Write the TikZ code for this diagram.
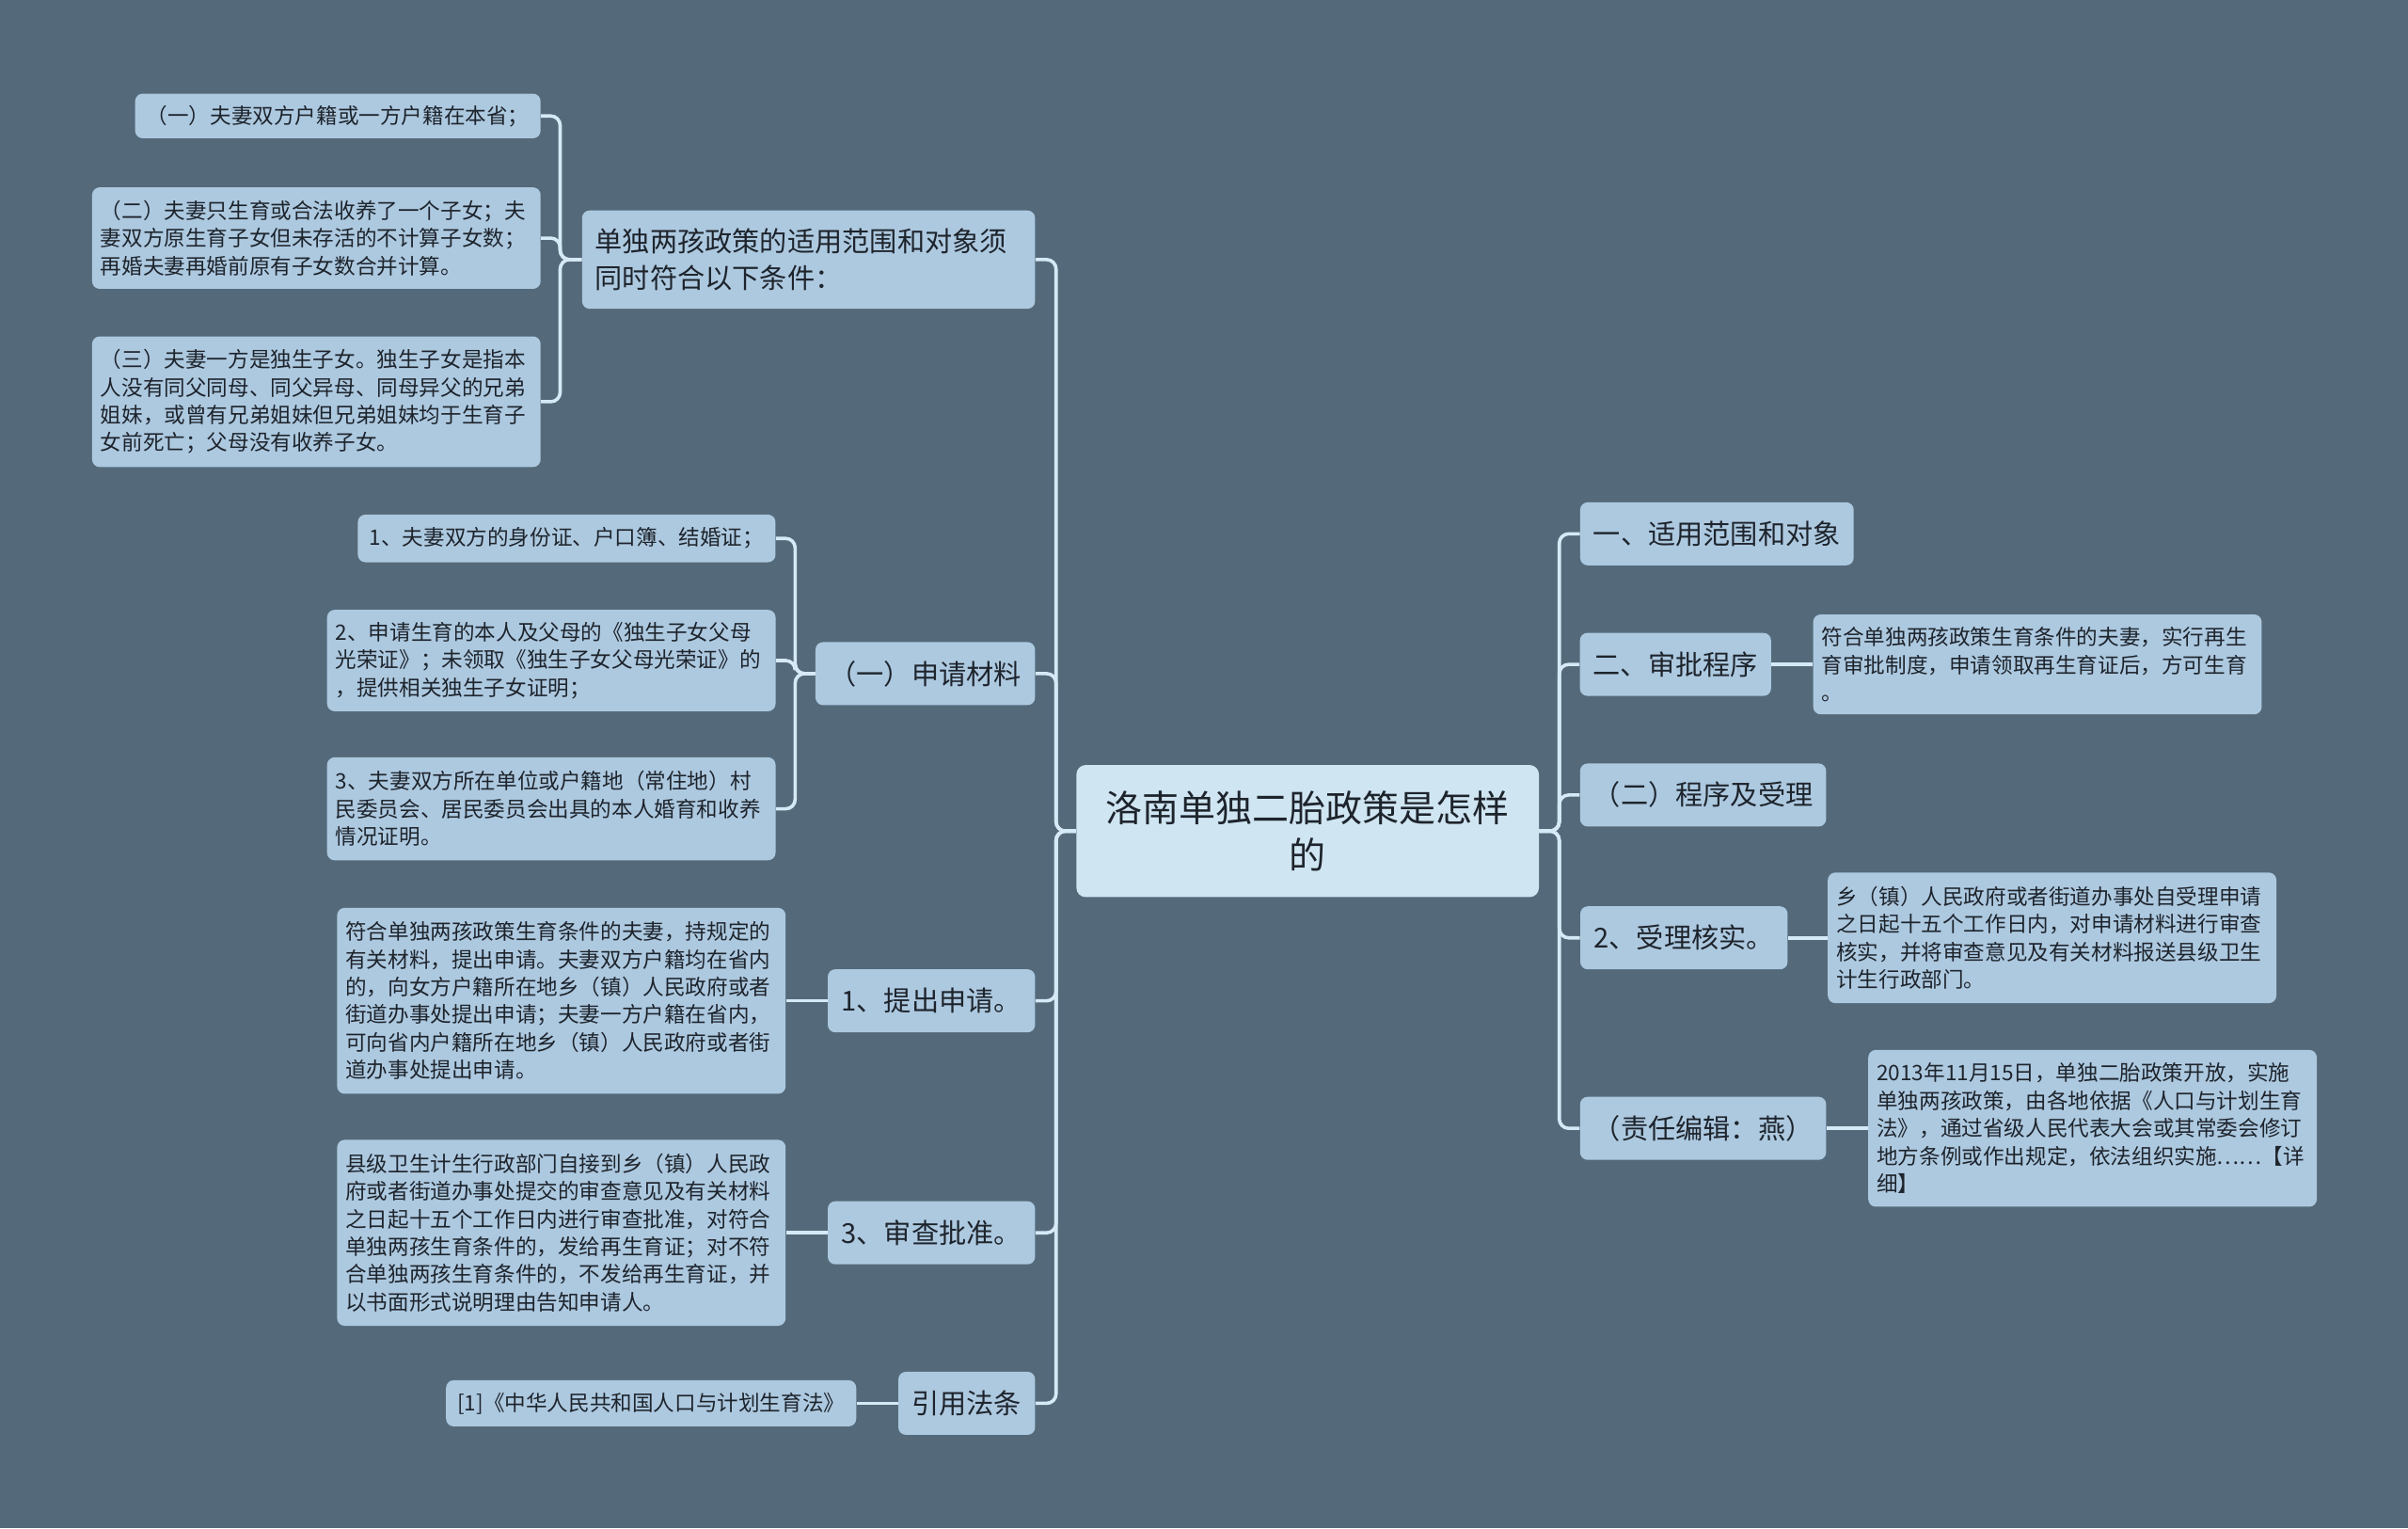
\documentclass[tikz,border=0pt]{standalone}
\usepackage{fontspec}
\setmainfont{Noto Sans CJK SC}
\usepackage{tikz}
\usetikzlibrary{positioning}
\definecolor{bgslate}{RGB}{84,106,122}
\definecolor{boxblue}{RGB}{173,201,224}
\definecolor{rootblue}{RGB}{207,229,242}
\definecolor{linkblue}{RGB}{214,233,246}
\definecolor{inkdark}{RGB}{30,36,44}
\tikzset{
  rootnode/.style={fill=rootblue, rounded corners=5pt, text=inkdark, align=center, font=\fontsize{19.5pt}{25.3pt}\selectfont, minimum height=70.2pt, text width=239.2pt},
  midnode/.style={fill=boxblue, rounded corners=4pt, text=inkdark, inner xsep=7pt, minimum height=33.5pt, font=\fontsize{14.6pt}{19.6pt}\selectfont},
  leafnode/.style={fill=boxblue, rounded corners=4pt, text=inkdark, align=left, inner xsep=4.5pt, inner ysep=3pt, font=\fontsize{11.3pt}{14.7pt}\selectfont, text width=229.4pt},
  lnk/.style={draw=linkblue, line width=1.8pt, rounded corners=5pt}
}

\begin{document}
\begin{tikzpicture}[x=0.8163pt, y=-0.8163pt]
  \fill[bgslate] (0,0) rectangle (1568,995);
  \useasboundingbox (0,0) rectangle (1568,995);

  % centre
  \node[rootnode] (root) at (851.5,541) {洛南单独二胎政策是怎样\\的};

  % left side
  \node[midnode, align=left, text width=226.8pt, minimum height=52.2pt] (a) at (526.5,169) {单独两孩政策的适用范围和对象须\\同时符合以下条件：};
  \node[midnode, minimum width=116.7pt] (b) at (602.5,438.5) {（一）申请材料};
  \node[midnode, minimum width=110.2pt] (c) at (606.5,651.5) {1、提出申请。};
  \node[midnode, minimum width=110.2pt] (d) at (606.5,802.5) {3、审查批准。};
  \node[midnode, minimum width=72.7pt] (e) at (629.5,913.5) {引用法条};

  \node[leafnode, text width=206.5pt, align=center, minimum height=23.7pt] (a1) at (220,75.5) {（一）夫妻双方户籍或一方户籍在本省；};
  \node[leafnode, minimum height=53.9pt] (a2) at (206,155) {（二）夫妻只生育或合法收养了一个子女；夫\\妻双方原生育子女但未存活的不计算子女数；\\再婚夫妻再婚前原有子女数合并计算。};
  \node[leafnode, minimum height=69.4pt] (a3) at (206,261.5) {（三）夫妻一方是独生子女。独生子女是指本\\人没有同父同母、同父异母、同母异父的兄弟\\姐妹，或曾有兄弟姐妹但兄弟姐妹均于生育子\\女前死亡；父母没有收养子女。};

  \node[leafnode, text width=213pt, align=center, minimum height=25.3pt] (b1) at (369,350.5) {1、夫妻双方的身份证、户口簿、结婚证；};
  \node[leafnode, minimum height=53.9pt] (b2) at (359,430) {2、申请生育的本人及父母的《独生子女父母\\光荣证》；未领取《独生子女父母光荣证》的\\，提供相关独生子女证明；};
  \node[leafnode, minimum height=54.7pt] (b3) at (359,526.5) {3、夫妻双方所在单位或户籍地（常住地）村\\民委员会、居民委员会出具的本人婚育和收养\\情况证明。};

  \node[leafnode, minimum height=98.8pt, left=22pt of c] (c1) {符合单独两孩政策生育条件的夫妻，持规定的\\有关材料，提出申请。夫妻双方户籍均在省内\\的，向女方户籍所在地乡（镇）人民政府或者\\街道办事处提出申请；夫妻一方户籍在省内，\\可向省内户籍所在地乡（镇）人民政府或者街\\道办事处提出申请。};
  \node[leafnode, minimum height=98.8pt, left=22pt of d] (d1) {县级卫生计生行政部门自接到乡（镇）人民政\\府或者街道办事处提交的审查意见及有关材料\\之日起十五个工作日内进行审查批准，对符合\\单独两孩生育条件的，发给再生育证；对不符\\合单独两孩生育条件的，不发给再生育证，并\\以书面形式说明理由告知申请人。};
  \node[leafnode, text width=209pt, align=center, minimum height=24.5pt, left=22pt of e] (e1) {[1]《中华人民共和国人口与计划生育法》};

  % right side
  \node[midnode, minimum width=145.3pt] (f) at (1118,347.5) {一、适用范围和对象};
  \node[midnode, minimum width=101.2pt] (g) at (1091,432.5) {二、审批程序};
  \node[midnode, minimum width=130.6pt] (h) at (1109,517.5) {（二）程序及受理};
  \node[midnode, minimum width=110.2pt] (i) at (1096.5,610.5) {2、受理核实。};
  \node[midnode, minimum width=130.6pt] (j) at (1109,734.5) {（责任编辑：燕）};

  \node[leafnode, minimum height=53.1pt, right=22pt of g] (g1) {符合单独两孩政策生育条件的夫妻，实行再生\\育审批制度，申请领取再生育证后，方可生育\\。};
  \node[leafnode, minimum height=69.4pt, right=21pt of i] (i1) {乡（镇）人民政府或者街道办事处自受理申请\\之日起十五个工作日内，对申请材料进行审查\\核实，并将审查意见及有关材料报送县级卫生\\计生行政部门。};
  \node[leafnode, minimum height=83.3pt, right=22pt of j] (j1) {2013年11月15日，单独二胎政策开放，实施\\单独两孩政策，由各地依据《人口与计划生育\\法》，通过省级人民代表大会或其常委会修订\\地方条例或作出规定，依法组织实施……【详\\细】};

  % connectors
  \foreach \n in {a,b,c,d,e}
    \draw[lnk] (root.west) -- ++(-13,0) |- (\n.east);
  \foreach \n in {f,g,h,i,j}
    \draw[lnk] (root.east) -- ++(13,0) |- (\n.west);
  \foreach \n in {a1,a2,a3}
    \draw[lnk] (a.west) -- ++(-14,0) |- (\n.east);
  \foreach \n in {b1,b2,b3}
    \draw[lnk] (b.west) -- ++(-13,0) |- (\n.east);
  \draw[lnk] (c.west) -- (c1.east);
  \draw[lnk] (d.west) -- (d1.east);
  \draw[lnk] (e.west) -- (e1.east);
  \draw[lnk] (g.east) -- (g1.west);
  \draw[lnk] (i.east) -- (i1.west);
  \draw[lnk] (j.east) -- (j1.west);
\end{tikzpicture}
\end{document}
